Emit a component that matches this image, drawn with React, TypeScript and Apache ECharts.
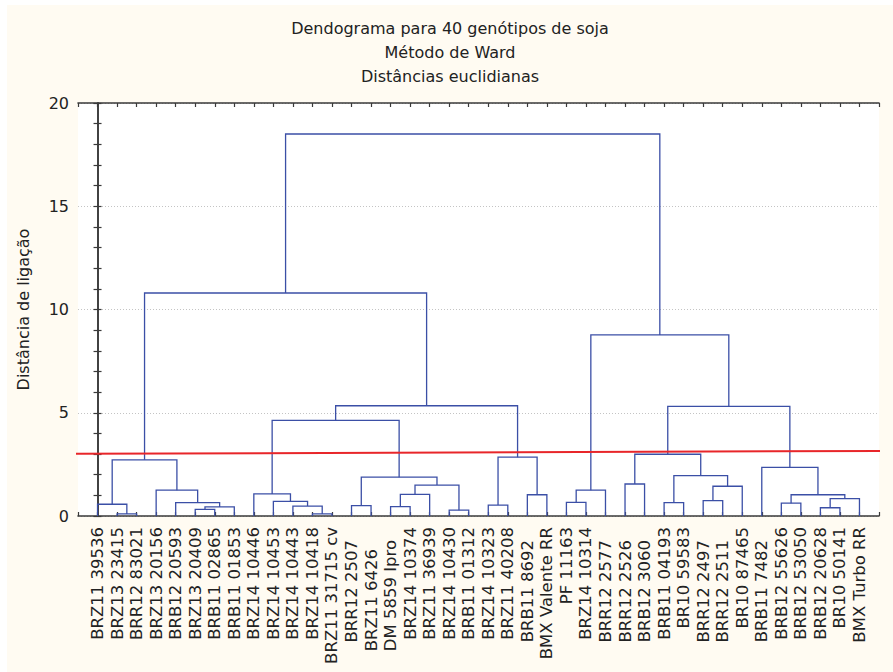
import React, { useEffect, useRef } from "react";
import * as echarts from "echarts";

const titleLines = ["Dendograma para 40 genótipos de soja", "Método de Ward", "Distâncias euclidianas"];
const yAxisName = "Distância de ligação";

const leafLabels = [
  "BRZ11 39536", "BRZ13 23415", "BRR12 83021", "BRZ13 20156", "BRB12 20593",
  "BRZ13 20409", "BRB11 02865", "BRB11 01853", "BRZ14 10446", "BRZ14 10453",
  "BRZ14 10443", "BRZ14 10418", "BRZ11 31715 cv", "BRR12 2507", "BRZ11 6426",
  "DM 5859 Ipro", "BRZ14 10374", "BRZ11 36939", "BRZ14 10430", "BRB11 01312",
  "BRZ14 10323", "BRZ11 40208", "BRB11 8692", "BMX Valente RR", "PF 11163",
  "BRZ14 10314", "BRR12 2577", "BRR12 2526", "BRB12 3060", "BRB11 04193",
  "BR10 59583", "BRR12 2497", "BRR12 2511", "BR10 87465", "BRB11 7482",
  "BRB12 55626", "BRB12 53050", "BRB12 20628", "BR10 50141", "BMX Turbo RR",
];

// linkage: [node A, node B, distance]; leaves are 0..39, merge k creates node 40+k
const linkage: [number, number, number][] = [
  [1, 2, 0.1],    // 40
  [0, 40, 0.57],  // 41
  [5, 6, 0.32],   // 42
  [42, 7, 0.44],  // 43
  [4, 43, 0.65],  // 44
  [3, 44, 1.25],  // 45
  [41, 45, 2.72], // 46
  [11, 12, 0.1],  // 47
  [10, 47, 0.48], // 48
  [9, 48, 0.71],  // 49
  [8, 49, 1.07],  // 50
  [13, 14, 0.5],  // 51
  [15, 16, 0.45], // 52
  [52, 17, 1.05], // 53
  [18, 19, 0.28], // 54
  [53, 54, 1.5],  // 55
  [51, 55, 1.88], // 56
  [50, 56, 4.63], // 57
  [20, 21, 0.53], // 58
  [22, 23, 1.03], // 59
  [58, 59, 2.85], // 60
  [57, 60, 5.34], // 61
  [46, 61, 10.8], // 62
  [24, 25, 0.66], // 63
  [63, 26, 1.25], // 64
  [27, 28, 1.55], // 65
  [29, 30, 0.65], // 66
  [31, 32, 0.74], // 67
  [67, 33, 1.44], // 68
  [66, 68, 1.96], // 69
  [65, 69, 2.99], // 70
  [35, 36, 0.62], // 71
  [37, 38, 0.4],  // 72
  [72, 39, 0.84], // 73
  [71, 73, 1.03], // 74
  [34, 74, 2.35], // 75
  [70, 75, 5.31], // 76
  [64, 76, 8.77], // 77
  [62, 77, 18.5], // 78
];

// cut line (red), endpoints [x, distance]
const cutLine: [number, number][] = [[-1.66, 3.01], [40.72, 3.155]];

const yTicks = { min: 0, max: 20, interval: 5 };

const FONT = "DejaVu Sans";

export default function App() {
  const ref = useRef<HTMLDivElement>(null);
  useEffect(() => {
    if (!ref.current) return;
    const chart = echarts.init(ref.current, undefined, { renderer: "svg" });

    const nodeX: number[] = leafLabels.map((_, i) => i);
    const nodeH: number[] = leafLabels.map(() => 0);
    const segs: number[][] = [];
    linkage.forEach(([a, b, h]) => {
      segs.push([nodeX[a], nodeH[a], nodeX[b], nodeH[b], h]);
      nodeX.push((nodeX[a] + nodeX[b]) / 2);
      nodeH.push(h);
    });

    const n = leafLabels.length;
    const xCommon = {
      type: "value" as const,
      min: -1,
      max: n,
      interval: 1,
      splitLine: { show: false },
      axisLine: { show: true, onZero: false, lineStyle: { color: "#3a3a3a", width: 1.6 } },
      axisTick: { show: true, inside: true, length: 4, lineStyle: { color: "#3a3a3a", width: 1.2 } },
    };
    const yCommon = {
      type: "value" as const,
      min: yTicks.min,
      max: yTicks.max,
      interval: yTicks.interval,
      axisLine: { show: true, lineStyle: { color: "#3a3a3a", width: 1.6 } },
      axisTick: { show: true, inside: true, length: 4, lineStyle: { color: "#3a3a3a", width: 1.2 } },
      minorTick: { show: true, splitNumber: 5, length: 4, lineStyle: { color: "#3a3a3a", width: 1.2 } },
    };

    const labelStyle = (name: string) => {
      if (name === "BRZ11 6426") return "c";
      const num = name.split(" ")[1] || "";
      return /^\d{4}$/.test(num) ? "b" : "a";
    };

    chart.setOption({
      animation: false,
      backgroundColor: "#fffbf2",
      title: {
        text: titleLines.join("\n"),
        left: "center",
        top: 11,
        padding: 0,
        textStyle: { fontFamily: FONT, fontSize: 16, fontWeight: "normal", color: "#222", lineHeight: 24 },
      },
      grid: {
        left: 70,
        right: 14,
        top: 98,
        bottom: 156,
        show: true,
        backgroundColor: "#ffffff",
        borderWidth: 0,
      },
      xAxis: [
        {
          ...xCommon,
          position: "bottom",
          axisLabel: {
            show: true,
            rotate: 90,
            margin: 11,
            fontFamily: FONT,
            fontSize: 16.5,
            color: "#222",
            formatter: (v: number) => {
              const name = leafLabels[Math.round(v)];
              if (!name) return "";
              return `{${labelStyle(name)}|${name}}`;
            },
            rich: {
              a: { fontFamily: FONT, fontSize: 16.5, color: "#222" },
              b: { fontFamily: FONT, fontSize: 16.5, color: "#222", padding: [0, 13, 0, 0] },
              c: { fontFamily: FONT, fontSize: 16.5, color: "#222", padding: [0, 22, 0, 0] },
            },
          },
        },
        { ...xCommon, position: "top", axisLabel: { show: false } },
      ],
      yAxis: [
        {
          ...yCommon,
          position: "left",
          name: yAxisName,
          nameLocation: "middle",
          nameRotate: 90,
          nameGap: 47,
          nameTextStyle: { fontFamily: FONT, fontSize: 16, color: "#222" },
          axisLabel: { show: true, margin: 9, fontFamily: FONT, fontSize: 16, color: "#222" },
          splitLine: { show: true, lineStyle: { color: "#c4c4c4", type: [1, 2], width: 1 } },
        },
        { ...yCommon, position: "right", axisLabel: { show: false }, splitLine: { show: false } },
      ],
      series: [
        {
          type: "custom",
          xAxisIndex: 0,
          yAxisIndex: 0,
          data: segs,
          encode: { x: [0, 2], y: [1, 3, 4] },
          renderItem: (_params: any, api: any) => {
            const p1 = api.coord([api.value(0), api.value(1)]);
            const p2 = api.coord([api.value(0), api.value(4)]);
            const p3 = api.coord([api.value(2), api.value(4)]);
            const p4 = api.coord([api.value(2), api.value(3)]);
            return {
              type: "polyline",
              shape: { points: [p1, p2, p3, p4] },
              style: { stroke: "#3b4fa6", fill: "none", lineWidth: 1.3 },
            };
          },
          silent: true,
        },
        {
          type: "line",
          data: cutLine,
          symbol: "none",
          clip: false,
          silent: true,
          lineStyle: { color: "#e8262a", width: 2 },
        },
      ],
    });
    return () => chart.dispose();
  }, []);

  return (
    <div
      ref={ref}
      style={{ position: "fixed", left: 7, top: 5, width: 886, height: 667, background: "#fffbf2" }}
    />
  );
}
